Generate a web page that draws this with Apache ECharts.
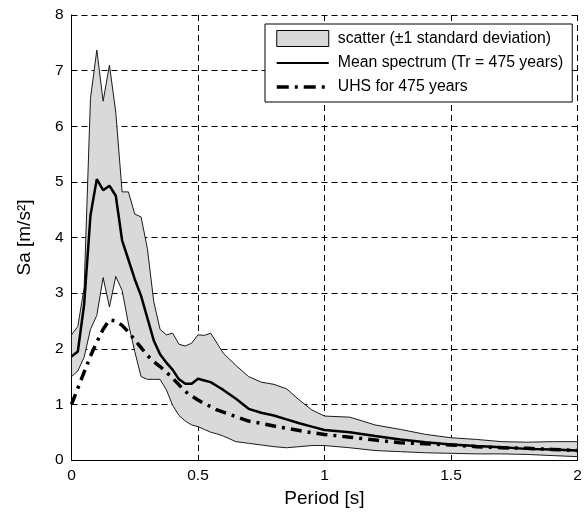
<!DOCTYPE html>
<html>
<head>
<meta charset="utf-8">
<script src="https://cdn.jsdelivr.net/npm/echarts@6/dist/echarts.min.js"></script>
<style>
html, body { margin: 0; padding: 0; background: #fff; }
#chart { width: 585px; height: 520px; }
</style>
</head>
<body>
<div id="chart"></div>
<script>
// Spectral periods [s]
const periods = [0, 0.025, 0.05, 0.075, 0.1, 0.125, 0.15, 0.175, 0.2, 0.225, 0.25, 0.275, 0.3, 0.325, 0.35, 0.375,
  0.4, 0.425, 0.45, 0.475, 0.5, 0.525, 0.55, 0.575, 0.6, 0.65, 0.7, 0.75, 0.8, 0.85, 0.9, 0.95,
  1.0, 1.1, 1.2, 1.3, 1.4, 1.5, 1.6, 1.7, 1.8, 1.9, 2.0];

// Mean + 1 standard deviation [m/s2]
const upperSd = [2.25, 2.4, 3.1, 6.5, 7.37, 6.45, 7.1, 6.25, 4.82, 4.82, 4.42, 4.37, 3.8, 2.85, 2.35, 2.25,
  2.28, 2.08, 2.05, 2.1, 2.25, 2.24, 2.28, 2.1, 1.92, 1.7, 1.5, 1.4, 1.36, 1.28, 1.08, 0.9,
  0.79, 0.77, 0.63, 0.55, 0.46, 0.4, 0.37, 0.33, 0.32, 0.33, 0.33];

// Mean spectrum, Tr = 475 years [m/s2]
const meanSpectrum = [1.86, 1.95, 2.8, 4.4, 5.05, 4.85, 4.93, 4.75, 3.95, 3.6, 3.25, 2.95, 2.55, 2.15, 1.9, 1.75,
  1.62, 1.45, 1.37, 1.37, 1.46, 1.43, 1.4, 1.33, 1.26, 1.1, 0.92, 0.85, 0.8, 0.73, 0.66, 0.6,
  0.54, 0.5, 0.43, 0.37, 0.32, 0.28, 0.25, 0.23, 0.2, 0.19, 0.17];

// Mean - 1 standard deviation [m/s2]
const lowerSd = [1.5, 1.6, 1.85, 2.35, 2.6, 3.28, 2.75, 3.3, 3.05, 2.45, 1.95, 1.5, 1.45, 1.45, 1.45, 1.26,
  0.98, 0.8, 0.7, 0.63, 0.6, 0.55, 0.5, 0.47, 0.43, 0.33, 0.3, 0.27, 0.24, 0.22, 0.24, 0.26,
  0.26, 0.22, 0.17, 0.15, 0.13, 0.12, 0.11, 0.11, 0.1, 0.08, 0.06];

// Uniform hazard spectrum, 475 years [m/s2]
const uhs475 = [1.0, 1.29, 1.58, 1.87, 2.12, 2.35, 2.52, 2.5, 2.42, 2.3, 2.16, 2.02, 1.88, 1.77, 1.68, 1.58,
  1.47, 1.35, 1.23, 1.15, 1.08, 1.01, 0.96, 0.9, 0.86, 0.78, 0.7, 0.66, 0.61, 0.57, 0.53, 0.49,
  0.46, 0.41, 0.36, 0.31, 0.29, 0.27, 0.24, 0.22, 0.21, 0.19, 0.17];

const seriesNames = ['scatter (\u00b11 standard deviation)', 'Mean spectrum (Tr = 475 years)', 'UHS for 475 years'];

const pairs = (ys) => periods.map((p, i) => [p, ys[i]]);

const font = "'Liberation Sans', Arial, Helvetica, sans-serif";
const chart = echarts.init(document.getElementById('chart'), null, { renderer: 'canvas' });

chart.setOption({
  animation: false,
  backgroundColor: '#fff',
  textStyle: { fontFamily: font, color: '#000' },
  grid: { left: 71.5, right: 7.5, top: 15, bottom: 60, containLabel: false },
  legend: {
    left: 265, top: 24,
    orient: 'vertical',
    backgroundColor: '#fff',
    borderColor: '#000', borderWidth: 1, borderRadius: 0,
    padding: [6, 9, 7, 10],
    itemWidth: 52, itemHeight: 16, itemGap: 8,
    textStyle: { fontFamily: font, fontSize: 15.8, color: '#000', padding: [0, 0, 0, 4] },
    selectedMode: false,
    data: [
      { name: seriesNames[0], icon: 'rect', itemStyle: { color: '#d9d9d9', borderColor: '#000', borderWidth: 1 } },
      { name: seriesNames[1], itemStyle: { opacity: 0 }, lineStyle: { width: 2 } },
      { name: seriesNames[2], itemStyle: { opacity: 0 }, lineStyle: { width: 3.5, type: [12, 6, 3, 6] } }
    ]
  },
  xAxis: {
    type: 'value', min: 0, max: 2, interval: 0.5,
    name: 'Period [s]', nameLocation: 'middle', nameGap: 29,
    nameTextStyle: { fontFamily: font, fontSize: 19, color: '#000' },
    axisLine: { show: true, onZero: false, lineStyle: { color: '#000', width: 1 } },
    axisTick: { show: true, inside: true, length: 5, lineStyle: { color: '#000' } },
    axisLabel: { fontFamily: font, fontSize: 15.5, color: '#000', margin: 8,
      formatter: (v) => String(v) },
    splitLine: { show: true, lineStyle: { color: '#000', width: 1, type: [6, 4] } }
  },
  yAxis: {
    type: 'value', min: 0, max: 8, interval: 1,
    name: 'Sa [m/s\u00b2]', nameLocation: 'middle', nameGap: 37, nameRotate: 90,
    nameTextStyle: { fontFamily: font, fontSize: 19, color: '#000' },
    axisLine: { show: true, onZero: false, lineStyle: { color: '#000', width: 1 } },
    axisTick: { show: true, inside: true, length: 5, lineStyle: { color: '#000' } },
    axisLabel: { fontFamily: font, fontSize: 15.5, color: '#000', margin: 8 },
    splitLine: { show: true, lineStyle: { color: '#000', width: 1, type: [6, 4] } }
  },
  series: [
    {
      name: seriesNames[0],
      type: 'custom',
      coordinateSystem: 'cartesian2d',
      itemStyle: { color: '#d9d9d9', borderColor: '#000', borderWidth: 1 },
      data: [[periods[0], upperSd[0]]],
      encode: { x: 0, y: 1 },
      z: 1,
      renderItem: (params, api) => {
        const pts = [];
        for (let i = 0; i < periods.length; i++) pts.push(api.coord([periods[i], upperSd[i]]));
        for (let i = periods.length - 1; i >= 0; i--) pts.push(api.coord([periods[i], lowerSd[i]]));
        return {
          type: 'polygon',
          shape: { points: pts },
          style: { fill: '#d9d9d9', stroke: '#1a1a1a', lineWidth: 1 }
        };
      }
    },
    {
      name: seriesNames[1],
      type: 'line',
      data: pairs(meanSpectrum),
      symbol: 'none',
      z: 3,
      lineStyle: { color: '#000', width: 2.5 },
      itemStyle: { color: '#000' }
    },
    {
      name: seriesNames[2],
      type: 'line',
      data: pairs(uhs475),
      symbol: 'none',
      z: 4,
      lineStyle: { color: '#000', width: 3.5, type: [11, 6, 3, 6] },
      itemStyle: { color: '#000' }
    }
  ]
});
</script>
</body>
</html>
